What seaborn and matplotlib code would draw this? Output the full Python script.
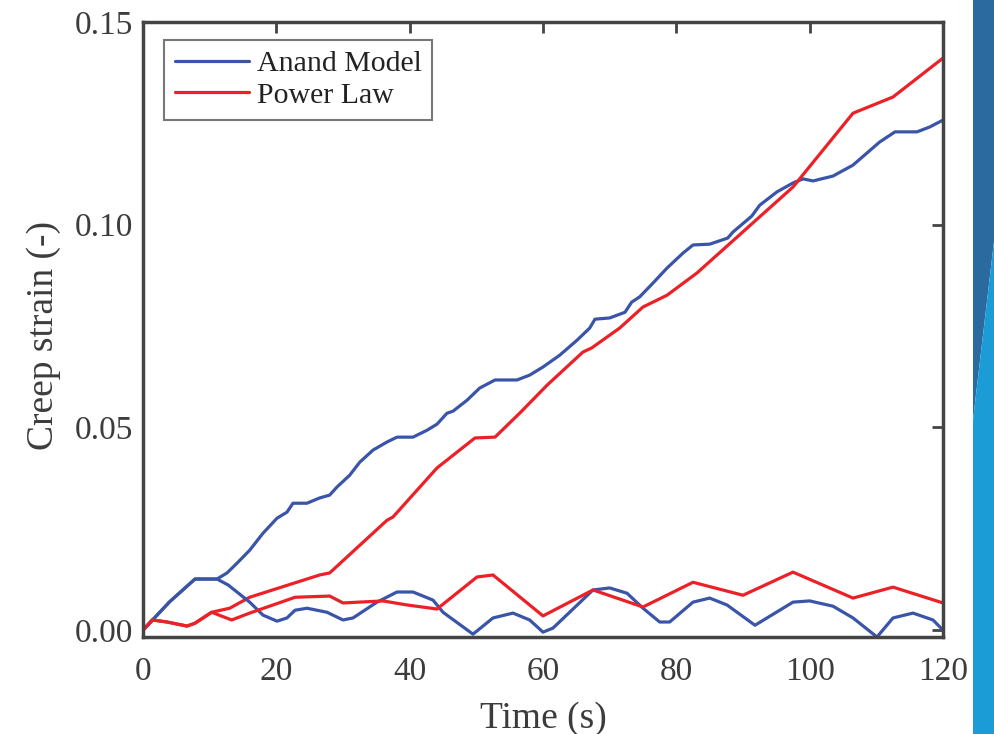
import numpy as np
import pandas as pd
import matplotlib
matplotlib.use("Agg")
import matplotlib.pyplot as plt
from matplotlib.patches import Polygon
import seaborn as sns

# ---- data ----
anand_cum_t = [0, 4, 7.8, 11.1, 12.6, 14.1, 16.0, 18.0, 20.1, 21.6, 22.5, 24.6, 26.5, 28.0, 29.1,
               31.0, 32.5, 34.5, 36.6, 38.1, 40.5, 42.6, 44.1, 45.6, 46.5, 48.6, 50.5, 52.8, 56.1,
               58.0, 60.0, 62.5, 65.1, 67.0, 67.8, 70.0, 72.3, 73.3, 74.5, 76.5, 78.6, 81.0, 82.5,
               85.0, 87.7, 88.5, 91.3, 92.5, 95.1, 97.5, 99.0, 100.5, 103.5, 106.5, 110.5, 112.8,
               116.1, 118.0, 120]
anand_cum_y = [0, 0.0070, 0.0126, 0.0126, 0.0141, 0.0165, 0.0197, 0.0239, 0.0276, 0.0291, 0.0313,
               0.0313, 0.0326, 0.0333, 0.0353, 0.0382, 0.0414, 0.0444, 0.0464, 0.0476, 0.0476,
               0.0493, 0.0508, 0.0535, 0.0540, 0.0567, 0.0597, 0.0617, 0.0617, 0.0629, 0.0649,
               0.0678, 0.0715, 0.0745, 0.0767, 0.0770, 0.0784, 0.0809, 0.0822, 0.0856, 0.0893,
               0.0930, 0.0950, 0.0952, 0.0967, 0.0982, 0.1021, 0.1048, 0.1081, 0.1103, 0.1113,
               0.1108, 0.1120, 0.1147, 0.1204, 0.1229, 0.1229, 0.1241, 0.1258]

anand_osc_t = [0, 4, 7.8, 11.1, 12.8, 16, 18, 20.1, 21.6, 22.8, 24.6, 27.6, 30.0, 31.5, 35.1, 38.1,
               40.5, 43.5, 45, 49.5, 52.5, 55.5, 58, 60, 61.5, 67.5, 70, 72.6, 75, 77.5, 79, 82.5,
               85, 87.6, 91.8, 97.5, 100, 103.5, 106.5, 110.1, 112.5, 115.5, 118.5, 120]
anand_osc_y = [0, 0.0070, 0.0126, 0.0126, 0.0111, 0.0069, 0.0037, 0.0022, 0.0030, 0.0049, 0.0054,
               0.0044, 0.0025, 0.0030, 0.0069, 0.0094, 0.0094, 0.0074, 0.0044, -0.0010, 0.0030,
               0.0042, 0.0025, -0.0005, 0.0005, 0.0099, 0.0104, 0.0091, 0.0054, 0.0020, 0.0020,
               0.0069, 0.0079, 0.0062, 0.0012, 0.0069, 0.0072, 0.0059, 0.0030, -0.0017, 0.0030,
               0.0042, 0.0025, 0.0000]

power_cum_t = [0, 1.4, 3.6, 6.6, 7.8, 10.3, 13.0, 16.0, 26.5, 28.0, 36.6, 37.5, 44.1, 49.8, 52.8,
               56.5, 60.6, 66.0, 67.3, 71.5, 75.0, 78.6, 83.1, 97.5, 106.5, 112.5, 120]
power_cum_y = [0, 0.0025, 0.0020, 0.0010, 0.0017, 0.0044, 0.0054, 0.0081, 0.0136, 0.0141, 0.0271,
               0.0279, 0.0400, 0.0474, 0.0476, 0.0535, 0.0604, 0.0686, 0.0696, 0.0745, 0.0797,
               0.0826, 0.0881, 0.1093, 0.1275, 0.1315, 0.1411]

power_osc_t = [0, 1.4, 3.6, 6.6, 7.8, 10.3, 13.3, 16, 21.6, 22.8, 28, 30, 36, 39.6, 44.1, 50.1,
               52.5, 60, 67.5, 75, 82.5, 90, 97.5, 106.5, 112.5, 120]
power_osc_y = [0, 0.0025, 0.0020, 0.0010, 0.0017, 0.0044, 0.0025, 0.0042, 0.0074, 0.0081, 0.0084,
               0.0067, 0.0072, 0.0062, 0.0052, 0.0131, 0.0136, 0.0035, 0.0099, 0.0057, 0.0118,
               0.0086, 0.0143, 0.0079, 0.0106, 0.0067]

xticks = [0, 20, 40, 60, 80, 100, 120]
yticks = [0.00, 0.05, 0.10, 0.15]
ytick_labels = ["0.00", "0.05", "0.10", "0.15"]

# ---- style ----
sns.set_style("white")
plt.rcParams["font.family"] = ["Liberation Serif", "DejaVu Serif"]
plt.rcParams["font.size"] = 22

BLUE = "#3a55a8"
RED = "#ec2027"
SPINE = "#444444"
TXT = "#3c3c3c"

fig = plt.figure(figsize=(9.95, 7.34), dpi=100)
ax = fig.add_axes([143 / 995, 1 - 637 / 734, 800 / 995, 615 / 734])

lw = 2.3
sns.lineplot(x=anand_cum_t, y=anand_cum_y, ax=ax, color=BLUE, lw=lw, sort=False,
             estimator=None, label="Anand Model")
sns.lineplot(x=power_cum_t, y=power_cum_y, ax=ax, color=RED, lw=lw, sort=False,
             estimator=None, label="Power Law")
sns.lineplot(x=anand_osc_t, y=anand_osc_y, ax=ax, color=BLUE, lw=lw, sort=False,
             estimator=None)
sns.lineplot(x=power_osc_t, y=power_osc_y, ax=ax, color=RED, lw=lw, sort=False,
             estimator=None)

ax.set_xlim(0, 120)
ax.set_ylim(-0.0017, 0.15)
ax.set_xticks(xticks)
ax.set_yticks(yticks)
ax.set_yticklabels(ytick_labels)
ax.tick_params(direction="in", length=8, width=2, color=SPINE, top=True, right=True,
               labelsize=24, labelcolor=TXT)
ax.tick_params(axis="x", pad=14)
ax.tick_params(axis="y", pad=7)
for s in ax.spines.values():
    s.set_color(SPINE)
    s.set_linewidth(2.5)
ax.set_xlabel("Time (s)", fontsize=27, color=TXT)
ax.set_ylabel("Creep strain (-)", fontsize=27, color=TXT)
ax.xaxis.set_label_coords(0.5, -0.104)
ax.yaxis.set_label_coords(-0.102, 0.49)

leg = ax.legend(loc="upper left", bbox_to_anchor=(0.026, 0.971), fontsize=21.5,
                frameon=True, fancybox=False, handlelength=2.5, handletextpad=0.25,
                borderpad=0.36, labelspacing=0.15, borderaxespad=0)
leg.get_frame().set_edgecolor("#555555")
leg.get_frame().set_linewidth(1.5)
for t in leg.get_texts():
    t.set_color("#222222")

# slide decoration stripe at right edge
x0 = 973 / 995
fig.patches.append(Polygon([[x0, 1], [1, 1], [1, 1 - 233 / 734], [x0, 1 - 420 / 734]],
                           closed=True, transform=fig.transFigure, facecolor="#2b6a9e",
                           edgecolor="none", figure=fig))
fig.patches.append(Polygon([[x0, 1 - 420 / 734], [1, 1 - 233 / 734], [1, 0], [x0, 0]],
                           closed=True, transform=fig.transFigure, facecolor="#1c9cd6",
                           edgecolor="none", figure=fig))

fig.savefig("out.png", dpi=100, facecolor="white")
